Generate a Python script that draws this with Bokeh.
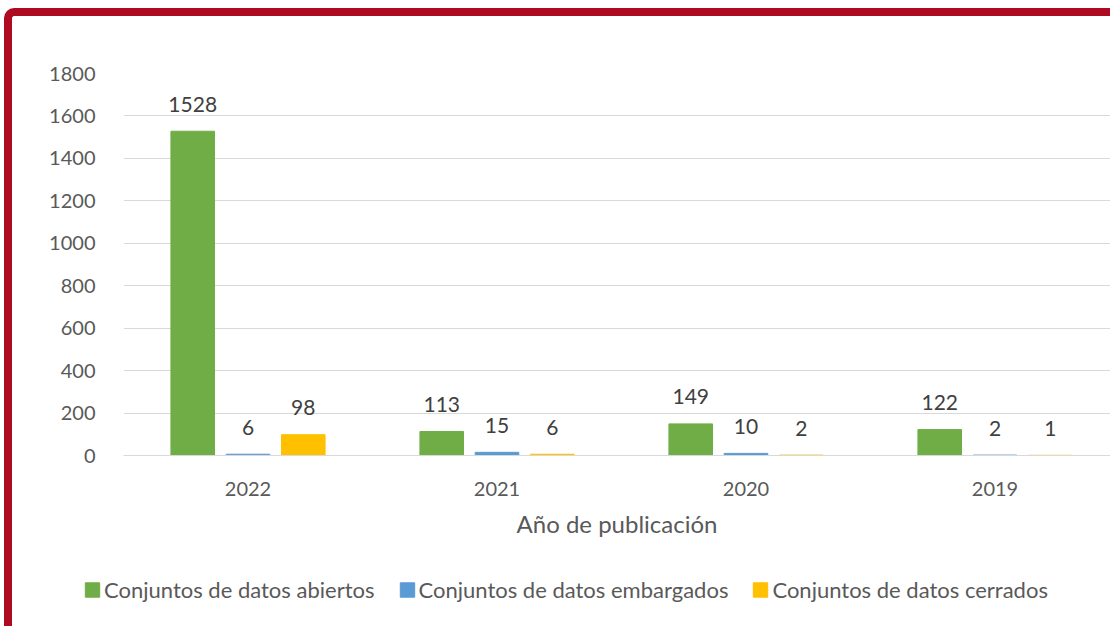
from bokeh.plotting import figure
from bokeh.layouts import column
from bokeh.models import (ColumnDataSource, Range1d, FixedTicker, Legend, LegendItem,
                          InlineStyleSheet)
from bokeh.core.properties import value
from bokeh.embed import file_html
from bokeh.resources import INLINE

years = ["2022", "2021", "2020", "2019"]
abiertos = [1528, 113, 149, 122]
embargados = [6, 15, 10, 2]
cerrados = [98, 6, 2, 1]
series_names = ["Conjuntos de datos abiertos", "Conjuntos de datos embargados",
                "Conjuntos de datos cerrados"]
series_values = [abiertos, embargados, cerrados]
colors = ["#70AD47", "#5B9BD5", "#FFC000"]
y_ticks = list(range(0, 1801, 200))

FONT = "Lato"
RED = "#AE0A22"
W = 1110
H_MAIN, H_LEG = 552, 74
LEFT, TOP = 123, 73
FRAME_BOTTOM = 455
CAT_PX = 249

p = figure(width=W, height=H_MAIN, output_backend="svg", toolbar_location=None,
           x_range=Range1d(0, (W - LEFT) / CAT_PX), y_range=Range1d(0, 1800),
           min_border_left=LEFT, min_border_right=0, min_border_top=TOP,
           min_border_bottom=H_MAIN - FRAME_BOTTOM, background_fill_color="white",
           border_fill_color="white", outline_line_color=None)

# legend strip below the chart
q = figure(width=W, height=H_LEG, output_backend="svg", toolbar_location=None,
           x_range=Range1d(0, 1), y_range=Range1d(0, 1), x_axis_type=None,
           y_axis_type=None, min_border=0, min_border_left=0, min_border_right=0,
           min_border_top=0, min_border_bottom=0, outline_line_color=None,
           background_fill_color="white", border_fill_color="white")
q.xgrid.visible = False
q.ygrid.visible = False
for fig in (p, q):
    if "frame_align" in fig.properties():
        fig.frame_align = False

offset = 0.222
bar_w = 0.175
leg_renderers = []
for k, (name, vals, col) in enumerate(zip(series_names, series_values, colors)):
    xs = [i + 0.5 + (k - 1) * offset for i in range(len(years))]
    src = ColumnDataSource(dict(x=xs, top=vals, lab=[str(v) for v in vals]))
    p.vbar(x="x", top="top", width=bar_w, color=col, source=src)
    p.text(x="x", y="top", text="lab", source=src, text_align="center",
           text_baseline="middle", y_offset=-27, text_color="#404040",
           text_font=value(FONT), text_font_size="21px")
    # hidden copy of the series, used only as the legend swatch
    leg_renderers.append(q.vbar(x="x", top="top", width=bar_w, color=col,
                                source=src, visible=False))

# axes
p.xaxis.ticker = FixedTicker(ticks=[i + 0.5 for i in range(len(years))])
p.xaxis.major_label_overrides = {i + 0.5: y for i, y in enumerate(years)}
p.xaxis.axis_label = "Año de publicación"
p.xaxis.axis_label_text_font = FONT
p.xaxis.axis_label_text_font_size = "24px"
p.xaxis.axis_label_text_font_style = "normal"
p.xaxis.axis_label_text_color = "#595959"
p.xaxis.axis_label_standoff = 10
p.xaxis.major_label_standoff = 20
p.xaxis.major_tick_line_color = None
p.xaxis.minor_tick_line_color = None
p.xaxis.axis_line_color = "#D9D9D9"
p.xaxis.major_label_text_font = FONT
p.xaxis.major_label_text_font_size = "20px"
p.xaxis.major_label_text_color = "#595959"

p.yaxis.ticker = FixedTicker(ticks=y_ticks)
p.yaxis.major_tick_line_color = None
p.yaxis.minor_tick_line_color = None
p.yaxis.axis_line_color = None
p.yaxis.major_label_standoff = 22
p.yaxis.major_label_text_font = FONT
p.yaxis.major_label_text_font_size = "20px"
p.yaxis.major_label_text_color = "#595959"

p.xgrid.grid_line_color = None
p.ygrid.grid_line_color = "#D9D9D9"
p.ygrid.grid_line_width = 1

legend = Legend(items=[LegendItem(label=n, renderers=[r]) for n, r in zip(series_names, leg_renderers)],
                orientation="horizontal", location="left",
                glyph_width=18, glyph_height=18, label_standoff=3, spacing=23,
                padding=0, margin=83, border_line_color=None, background_fill_alpha=0,
                inactive_fill_alpha=0,
                label_text_font=FONT, label_text_font_size="22px",
                label_text_color="#595959", label_height=24)
q.add_layout(legend, "center")

# dark red frame around the chart (only top and left edges are in view)
top_css = InlineStyleSheet(css=f"""
:host {{ position: relative; }}
:host::before {{
  content: ""; position: absolute; left: 4px; top: 8px;
  width: calc(100% - 4px); height: calc(100% - 8px); box-sizing: border-box;
  border-top: 8px solid {RED}; border-left: 8px solid {RED};
  border-top-left-radius: 10px; pointer-events: none; z-index: 100;
}}
""")
bottom_css = InlineStyleSheet(css=f"""
:host {{ position: relative; }}
:host::before {{
  content: ""; position: absolute; left: 4px; top: 0px;
  width: calc(100% - 4px); height: 100%; box-sizing: border-box;
  border-left: 8px solid {RED}; pointer-events: none; z-index: 100;
}}
""")
p.stylesheets = [top_css]
q.stylesheets = [bottom_css]

layout = column(p, q, spacing=0)
open("out.html", "w").write(file_html(layout, INLINE))
